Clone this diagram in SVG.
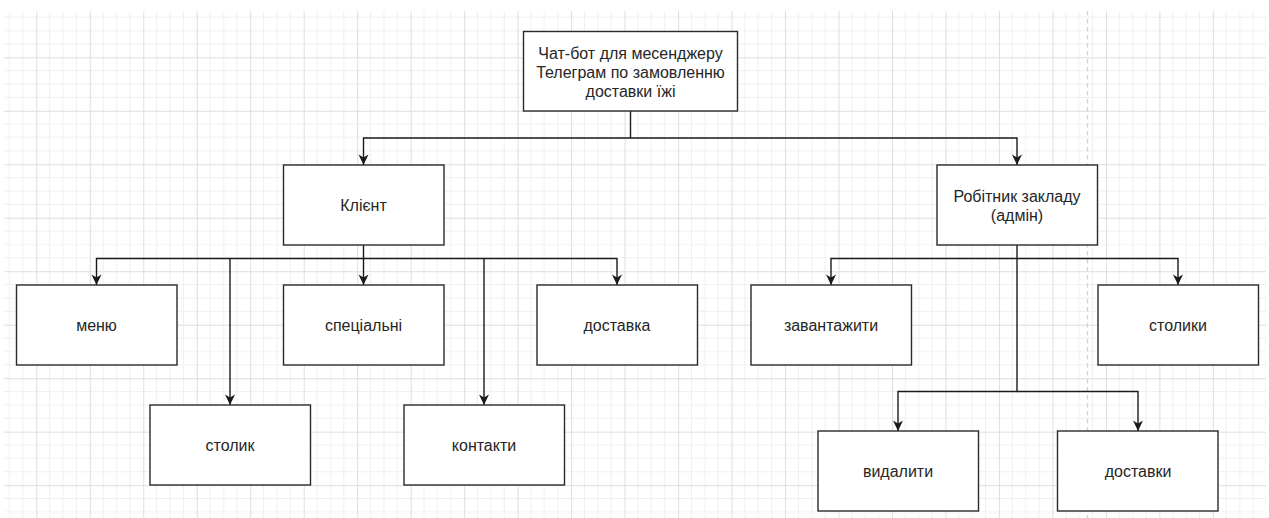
<svg xmlns="http://www.w3.org/2000/svg" width="1269" height="518" viewBox="0 0 1269 518">
  <style>
    .box { fill: #ffffff; stroke: #2a2a2a; stroke-width: 1.4; }
    .lbl { font-family: "Liberation Sans", Arial, sans-serif; font-size: 16px; fill: #262626; text-anchor: middle; }
    .edge { fill: none; stroke: #1a1a1a; stroke-width: 1.4; }
    .arrow { marker-end: url(#head); }
  </style>
  <defs>
    <marker id="head" markerUnits="userSpaceOnUse" viewBox="-11 -6 12 12" markerWidth="12" markerHeight="12" refX="0" refY="0" orient="auto">
      <path d="M-10.5,-5 L0,0 L-10.5,5 L-7.6,0 Z" fill="#1a1a1a"/>
    </marker>
    <!-- 4x4 cell grid, minor step 13.37 -->
    <pattern id="grid" patternUnits="userSpaceOnUse" x="36.3" y="57.3" width="53.48" height="53.48">
      <path d="M13.37,0 V53.48 M26.74,0 V53.48 M40.11,0 V53.48 M0,13.37 H53.48 M0,26.74 H53.48 M0,40.11 H53.48" stroke="#efefef" stroke-width="1" fill="none"/>
      <path d="M0.5,0 V53.48 M0,0.5 H53.48" stroke="#dedede" stroke-width="1" fill="none"/>
    </pattern>
  </defs>

  <rect width="1269" height="518" fill="#ffffff"/>
  <rect x="4" y="11" width="1262" height="507" fill="url(#grid)"/>
  <line x1="1087.5" y1="11" x2="1087.5" y2="518" stroke="#d2d2d2" stroke-width="1.3" stroke-dasharray="4.5 3.5"/>

  <g id="connectors">
    <path class="edge" d="M630.5,111 V138 H363.5 V165" style="marker-end:url(#head)"/>
    <path class="edge" d="M630.5,138 H1017 V165" style="marker-end:url(#head)"/>
    <path class="edge arrow" d="M363.5,245 V258.5 H96.5 V285"/>
    <path class="edge arrow" d="M363.5,258.5 V285"/>
    <path class="edge arrow" d="M363.5,258.5 H617 V285"/>
    <path class="edge arrow" d="M230,258.5 V405"/>
    <path class="edge arrow" d="M484,258.5 V405"/>
    <path class="edge arrow" d="M1017,245 V258.5 H831 V285"/>
    <path class="edge arrow" d="M1017,258.5 H1178 V285"/>
    <path class="edge arrow" d="M1017,258.5 V391.5 H898 V431"/>
    <path class="edge arrow" d="M1017,391.5 H1138 V431"/>
  </g>

  <g id="node-root">
    <rect class="box" x="523.5" y="31.5" width="214" height="79.5"/>
    <text class="lbl" x="630.5" y="59">Чат-бот для месенджеру</text>
    <text class="lbl" x="630.5" y="78">Телеграм по замовленню</text>
    <text class="lbl" x="630.5" y="97">доставки їжі</text>
  </g>

  <g id="node-client">
    <rect class="box" x="283.5" y="165" width="160.5" height="80"/>
    <text class="lbl" x="363.5" y="210.5">Клієнт</text>
  </g>

  <g id="node-admin">
    <rect class="box" x="937" y="165" width="160.5" height="80"/>
    <text class="lbl" x="1017" y="201.5">Робітник закладу</text>
    <text class="lbl" x="1017" y="221">(адмін)</text>
  </g>

  <g id="node-menu">
    <rect class="box" x="16.5" y="285" width="160.5" height="80"/>
    <text class="lbl" x="96.5" y="330.5">меню</text>
  </g>

  <g id="node-special">
    <rect class="box" x="283.5" y="285" width="160.5" height="80"/>
    <text class="lbl" x="363.5" y="330.5">спеціальні</text>
  </g>

  <g id="node-delivery">
    <rect class="box" x="537" y="285" width="160.5" height="80"/>
    <text class="lbl" x="617" y="330.5">доставка</text>
  </g>

  <g id="node-table">
    <rect class="box" x="150" y="405" width="160.5" height="80"/>
    <text class="lbl" x="230" y="450.5">столик</text>
  </g>

  <g id="node-contacts">
    <rect class="box" x="404" y="405" width="160.5" height="80"/>
    <text class="lbl" x="484" y="450.5">контакти</text>
  </g>

  <g id="node-upload">
    <rect class="box" x="751" y="285" width="160.5" height="80"/>
    <text class="lbl" x="831" y="330.5">завантажити</text>
  </g>

  <g id="node-tables">
    <rect class="box" x="1098" y="285" width="160.5" height="80"/>
    <text class="lbl" x="1178" y="330.5">столики</text>
  </g>

  <g id="node-remove">
    <rect class="box" x="818" y="431" width="160.5" height="80"/>
    <text class="lbl" x="898" y="476.5">видалити</text>
  </g>

  <g id="node-deliveries">
    <rect class="box" x="1057.5" y="431" width="160.5" height="80"/>
    <text class="lbl" x="1138" y="476.5">доставки</text>
  </g>
</svg>
